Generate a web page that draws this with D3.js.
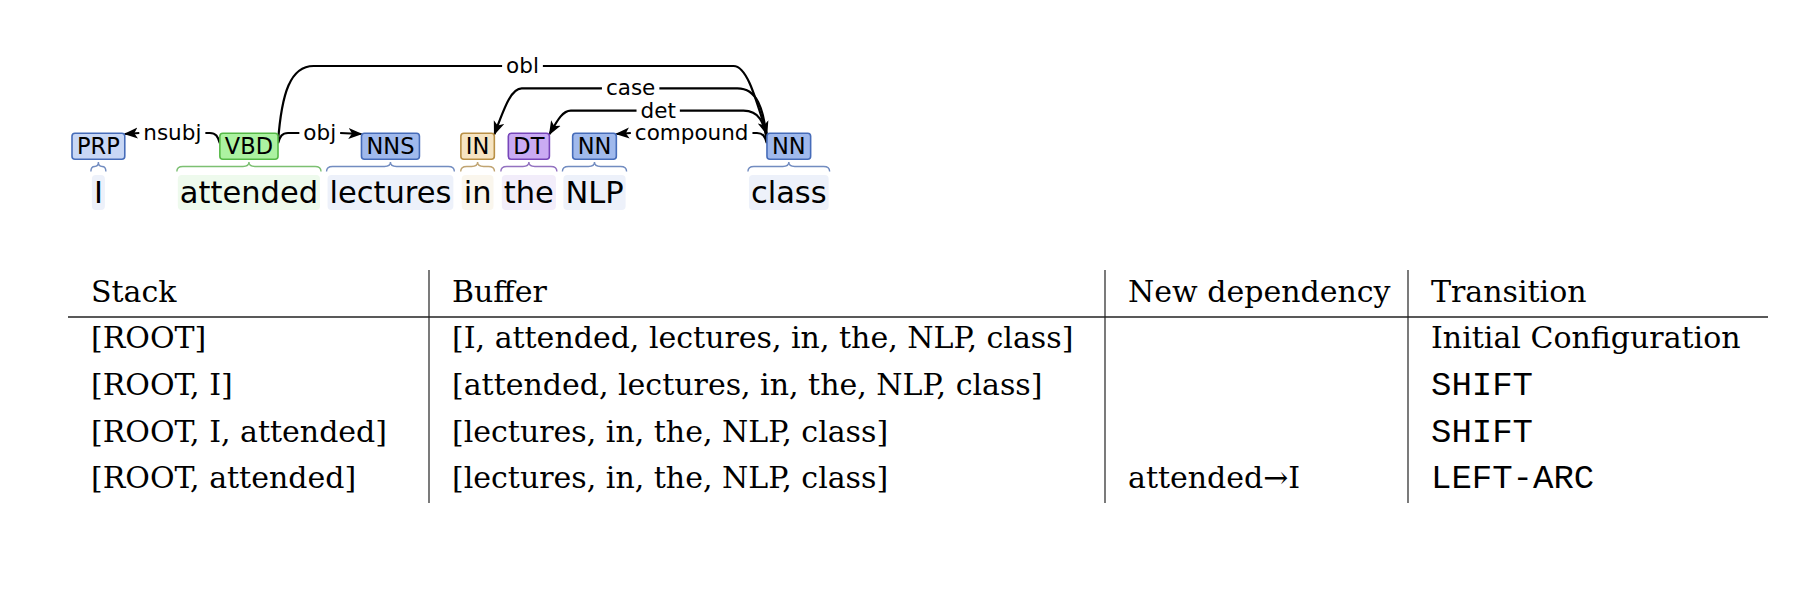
<!DOCTYPE html>
<html lang="en">
<head>
<meta charset="utf-8" />
<title>Dependency parse and transitions</title>
<script src="https://cdn.jsdelivr.net/npm/d3@7"></script>
<style>
  body { margin: 0; background: #fff; }
</style>
</head>
<body>
<script>
// sentence + parse
const words = ["I", "attended", "lectures", "in", "the", "NLP", "class"];
const tags = ["PRP", "VBD", "NNS", "IN", "DT", "NN", "NN"];
const arcHeads = [1, 1, 1, 6, 6, 6];
const arcDeps = [0, 2, 6, 3, 4, 5];
const arcLabels = ["nsubj", "obj", "obl", "case", "det", "compound"];

// transition table
const headers = ["Stack", "Buffer", "New dependency", "Transition"];
const stackCol = ["[ROOT]", "[ROOT, I]", "[ROOT, I, attended]", "[ROOT, attended]"];
const bufferCol = [
  "[I, attended, lectures, in, the, NLP, class]",
  "[attended, lectures, in, the, NLP, class]",
  "[lectures, in, the, NLP, class]",
  "[lectures, in, the, NLP, class]"
];
const dependencyCol = ["", "", "", "attended\u2192I"];
const transitionCol = ["Initial Configuration", "SHIFT", "SHIFT", "LEFT-ARC"];

const tagColors = { PRP: "#ccdaf6", VBD: "#adf6a2", NNS: "#a4bced", IN: "#ffe8be", DT: "#ccadf6", NN: "#a4bced" };

const sans = "'DejaVu Sans', Verdana, sans-serif";
const serif = "'DejaVu Serif', serif";
const mono = "'Liberation Mono', monospace";

const svg = d3.select("body").append("svg")
  .attr("width", 1818)
  .attr("height", 606);

svg.append("defs").append("marker")
  .attr("id", "arrow")
  .attr("markerUnits", "userSpaceOnUse")
  .attr("viewBox", "0 0 14 12")
  .attr("markerWidth", 14)
  .attr("markerHeight", 12)
  .attr("refX", 13)
  .attr("refY", 6)
  .attr("orient", "auto")
  .append("path")
  .attr("d", "M0,0.5 L14,6 L0,11.5 L3.5,6 Z")
  .attr("fill", "#000");

// ---- dependency diagram ----
const tagTop = 133.3, tagH = 26, wordBase = 203;
const levelY = d3.scaleLinear().domain([0, 3]).range([133, 66]);

const gBg = svg.append("g");
const gBrace = svg.append("g");
const gArcs = svg.append("g");
const gTags = svg.append("g");
const gWords = svg.append("g");

function tint(c, s, l) {
  const h = d3.hsl(c);
  h.s = Math.min(h.s, s);
  h.l = l;
  return h.formatHex();
}

const wordText = gWords.selectAll("text").data(words).join("text")
  .attr("y", wordBase)
  .attr("font-family", sans)
  .attr("font-size", 30.5)
  .attr("text-anchor", "middle")
  .attr("fill", "#000")
  .text(d => d);
const wordW = wordText.nodes().map(n => n.getComputedTextLength());

const tagG = gTags.selectAll("g").data(tags).join("g");
const tagRect = tagG.append("rect")
  .attr("y", tagTop)
  .attr("height", tagH)
  .attr("rx", 3)
  .attr("fill", d => tint(tagColors[d], 0.75, d3.hsl(tagColors[d]).l - 0.01))
  .attr("stroke", d => tint(tagColors[d], 0.45, 0.5))
  .attr("stroke-width", 1.6);
const tagText = tagG.append("text")
  .attr("y", tagTop + 20.5)
  .attr("font-family", sans)
  .attr("font-size", 22.5)
  .attr("text-anchor", "middle")
  .attr("fill", "#000")
  .text(d => d);
const tagW = tagText.nodes().map(n => n.getComputedTextLength() + 10);

// arcs: measure labels, then nesting levels
const arcs = arcLabels.map((lab, i) => ({
  h: arcHeads[i], d: arcDeps[i], label: lab,
  lo: Math.min(arcHeads[i], arcDeps[i]), hi: Math.max(arcHeads[i], arcDeps[i])
}));
const arcG = gArcs.selectAll("g").data(arcs).join("g");
const arcText = arcG.append("text")
  .attr("font-family", sans)
  .attr("font-size", 21.5)
  .attr("text-anchor", "middle")
  .attr("fill", "#000")
  .text(d => d.label);
arcText.each(function (d) { d.lw = this.getComputedTextLength(); });

arcs.slice().sort((a, b) => (a.hi - a.lo) - (b.hi - b.lo)).forEach(a => {
  const inner = arcs.filter(b => b !== a && b.lo >= a.lo && b.hi <= a.hi && (b.hi - b.lo) < (a.hi - a.lo));
  a.level = inner.length ? d3.max(inner, b => b.level) + 1 : 0;
});

// horizontal layout of tokens
const gap = 7.5;
const tokens = words.map((w, i) => ({ ww: wordW[i] + 4, tw: tagW[i] }));
let cursor = 72;
tokens.forEach((t, i) => {
  t.ext = Math.max(t.ww, t.tw);
  let cx = (i === 0 ? cursor : cursor + gap) + t.ext / 2;
  if (i > 0) {
    const prev = tokens[i - 1];
    arcs.filter(a => a.level === 0 && a.lo === i - 1 && a.hi === i).forEach(a => {
      const need = prev.cx + prev.tw / 2 + a.lw + 37 + t.tw / 2;
      if (need > cx) cx = need;
    });
  }
  t.cx = cx;
  cursor = cx + t.ext / 2;
});

wordText.attr("x", (d, i) => tokens[i].cx);
tagRect.attr("x", (d, i) => tokens[i].cx - tokens[i].tw / 2).attr("width", (d, i) => tokens[i].tw);
tagText.attr("x", (d, i) => tokens[i].cx);

gBg.selectAll("rect").data(tags).join("rect")
  .attr("x", (d, i) => tokens[i].cx - tokens[i].ww / 2)
  .attr("width", (d, i) => tokens[i].ww)
  .attr("y", 175)
  .attr("height", 35)
  .attr("rx", 4)
  .attr("fill", d => tint(tagColors[d], 0.6, 0.955));

gBrace.selectAll("path").data(tags).join("path")
  .attr("d", (d, i) => {
    const t = tokens[i];
    const L = t.cx - t.ww / 2 - 1, R = t.cx + t.ww / 2 + 1, c = t.cx;
    const r = Math.min(6, (R - L) / 4);
    const yEnd = 171.5, yBar = 166.5, yPeak = 162;
    const p = d3.path();
    p.moveTo(L, yEnd);
    p.quadraticCurveTo(L, yBar, L + r, yBar);
    p.lineTo(c - r, yBar);
    p.quadraticCurveTo(c, yBar, c, yPeak);
    p.quadraticCurveTo(c, yBar, c + r, yBar);
    p.lineTo(R - r, yBar);
    p.quadraticCurveTo(R, yBar, R, yEnd);
    return p.toString();
  })
  .attr("fill", "none")
  .attr("stroke", d => tint(tagColors[d], 0.38, 0.6))
  .attr("stroke-width", 1.4);

function arcPath(a) {
  const H = tokens[a.h], D = tokens[a.d];
  const dir = a.d > a.h ? 1 : -1;
  const xH = H.cx + dir * H.tw / 2, xD = D.cx - dir * D.tw / 2;
  const yh = levelY(a.level);
  const mid = (xH + xD) / 2, half = a.lw / 2 + 4;
  const p = d3.path();
  if (a.level === 0) {
    p.moveTo(xH, tagTop + 10);
    p.bezierCurveTo(xH + dir * 2, tagTop + 3, xH + dir * 4, yh, xH + dir * 10, yh);
    p.lineTo(mid - dir * half, yh);
    p.moveTo(mid + dir * half, yh);
    p.lineTo(xD, yh + 1);
  } else {
    const yH = tagTop + 9, yD = tagTop + 1;
    const dyH = yH - yh, dxH = 15 + 0.27 * dyH;
    const dyD = yD - yh, dxD = 15 + 0.27 * dyD;
    p.moveTo(xH, yH);
    p.bezierCurveTo(xH + dir * dxH * 0.1, yh + dyH * 0.35, xH + dir * dxH * 0.35, yh, xH + dir * dxH, yh);
    p.lineTo(mid - dir * half, yh);
    p.moveTo(mid + dir * half, yh);
    p.lineTo(xD - dir * dxD, yh);
    p.bezierCurveTo(xD - dir * dxD * 0.6, yh, xD - dir * dxD * 0.35, yh + dyD * 0.45, xD, yD);
  }
  return p.toString();
}

arcG.insert("path", "text")
  .attr("d", arcPath)
  .attr("fill", "none")
  .attr("stroke", "#000")
  .attr("stroke-width", 2.2)
  .attr("marker-end", "url(#arrow)");

arcText
  .attr("x", a => {
    const H = tokens[a.h], D = tokens[a.d];
    const dir = a.d > a.h ? 1 : -1;
    return ((H.cx + dir * H.tw / 2) + (D.cx - dir * D.tw / 2)) / 2;
  })
  .attr("y", a => levelY(a.level) + 7);

// ---- transition table ----
const colLines = [68, 429, 1105, 1408, 1768];
const pad = 23;
const rowY = d3.scaleLinear().domain([0, 4]).range([301.7, 488.3]);
const table = svg.append("g");

table.selectAll(".head").data(headers).join("text")
  .attr("class", "head")
  .attr("x", (d, i) => colLines[i] + pad)
  .attr("y", rowY(0))
  .attr("font-family", serif)
  .attr("font-size", 30)
  .attr("fill", "#000")
  .text(d => d);

[stackCol, bufferCol, dependencyCol, transitionCol].forEach((col, c) => {
  table.selectAll(".c" + c).data(col).join("text")
    .attr("class", "c" + c)
    .attr("x", colLines[c] + pad)
    .attr("y", (d, i) => rowY(i + 1))
    .attr("font-family", d => (c === 3 && d === d.toUpperCase()) ? mono : serif)
    .attr("font-size", d => (c === 3 && d === d.toUpperCase()) ? 34 : 30)
    .attr("fill", "#000")
    .text(d => d);
});

table.append("line")
  .attr("x1", colLines[0]).attr("x2", colLines[4])
  .attr("y1", 317).attr("y2", 317)
  .attr("stroke", "#222").attr("stroke-width", 1.6);

table.selectAll(".vl").data(colLines.slice(1, 4)).join("line")
  .attr("class", "vl")
  .attr("x1", d => d).attr("x2", d => d)
  .attr("y1", 270).attr("y2", 503)
  .attr("stroke", "#222").attr("stroke-width", 1.2);
</script>
</body>
</html>
